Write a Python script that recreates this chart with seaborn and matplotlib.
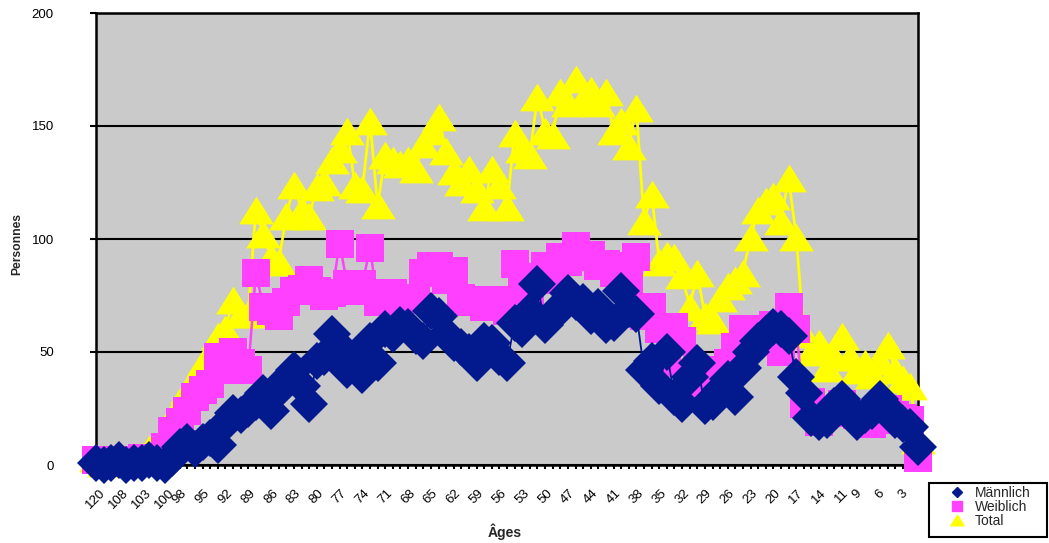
import numpy as np
import pandas as pd
import matplotlib
matplotlib.use("Agg")
import matplotlib.pyplot as plt
import seaborn as sns
from matplotlib.lines import Line2D
from matplotlib.patches import Rectangle

# ---------------- data ----------------
ages = [120, 112, 110, 108, 106, 105, 103, 102, 101] + list(range(100, 0, -1))
tick_ages = [120, 108, 103, 100, 98, 95, 92, 89, 86, 83, 80, 77, 74, 71, 68, 65, 62,
             59, 56, 53, 50, 47, 44, 41, 38, 35, 32, 29, 26, 23, 20, 17, 14, 11, 9, 6, 3]

maennlich = [1, 0, 1, 2, 0, 1, 1, 2, 1,
             0, 3, 8, 10, 7, 10, 12, 9, 18, 23,
             22, 25, 28, 32, 24, 33, 38, 42, 35, 27,
             46, 48, 58, 52, 42, 47, 40, 55, 45, 60,
             58, 62, 61, 57, 55, 68, 66, 58, 54, 52,
             50, 45, 55, 54, 48, 45, 63, 60, 68, 80,
             62, 66, 70, 76, 72, 72, 66, 70, 62, 63,
             77, 69, 67, 42, 46, 35, 50, 30, 27, 39,
             45, 26, 28, 33, 38, 30, 43, 50, 55, 58,
             61, 60, 57, 39, 32, 21, 19, 20, 26, 29,
             25, 19, 22, 24, 29, 25, 20, 18, 17, 8]

weiblich = [2, 1, 1, 2, 1, 2, 3, 3, 2,
            8, 15, 19, 24, 30, 33, 36, 48, 42, 50,
            45, 42, 85, 70, 68, 66, 72, 77, 78, 82,
            77, 75, 76, 98, 80, 77, 80, 96, 72, 76,
            76, 72, 74, 73, 85, 88, 88, 82, 86, 74,
            72, 73, 70, 72, 73, 68, 89, 80, 70, 83,
            88, 82, 92, 90, 97, 92, 93, 88, 89, 85,
            88, 80, 92, 66, 70, 60, 45, 61, 55, 33,
            40, 40, 36, 42, 45, 52, 60, 58, 60, 58,
            62, 50, 70, 60, 27, 28, 19, 24, 23, 27,
            23, 22, 22, 18, 20, 25, 22, 21, 20, 3]

total = [3, 1, 2, 4, 1, 3, 4, 7, 3,
         8, 18, 27, 33, 37, 45, 48, 57, 60, 73,
         67, 67, 113, 102, 92, 90, 110, 124, 113, 110,
         123, 125, 135, 140, 148, 124, 122, 152, 115, 137,
         135, 133, 135, 131, 142, 148, 154, 139, 130, 125,
         131, 122, 114, 131, 124, 114, 147, 140, 137, 163,
         148, 146, 165, 160, 171, 162, 166, 160, 165, 148,
         152, 141, 158, 108, 120, 90, 93, 92, 84, 70,
         85, 66, 64, 74, 79, 82, 85, 101, 113, 117,
         119, 108, 127, 101, 58, 50, 54, 43, 48, 57,
         48, 42, 45, 40, 46, 53, 42, 38, 35, 11]

series_names = ["Männlich", "Weiblich", "Total"]

# ---------------- style ----------------
sns.set_theme(style="white")
plt.rcParams['font.family'] = ['Liberation Sans', 'DejaVu Sans']

W, H = 1049, 543
fig = plt.figure(figsize=(W / 100, H / 100), dpi=100)
ax = fig.add_axes([96 / W, 1 - 465 / H, (918 - 96) / W, (465 - 13) / H])
ax.set_facecolor('#CACACA')

pos = np.arange(len(ages))
df = pd.DataFrame({'pos': pos, 'Männlich': maennlich, 'Weiblich': weiblich, 'Total': total})

c_m, c_w, c_t = '#031A8F', '#FF40FF', '#FFFF00'
tri = [(0, 1), (-1.25, -1), (1.25, -1), (0, 1)]

sns.lineplot(data=df, x='pos', y='Total', color=c_t, lw=2.0, marker=tri, markersize=25,
             markeredgewidth=0, errorbar=None, ax=ax, zorder=3, clip_on=False)
sns.lineplot(data=df, x='pos', y='Weiblich', color=c_w, lw=1.8, marker='s', markersize=19.5,
             markeredgewidth=0, errorbar=None, ax=ax, zorder=4, clip_on=False)
sns.lineplot(data=df, x='pos', y='Männlich', color=c_m, lw=1.3, marker='D', markersize=19,
             markeredgewidth=0, errorbar=None, ax=ax, zorder=5, clip_on=False)

ax.set_xlim(0, len(ages) - 1)
ax.set_ylim(0, 200)
ax.set_yticks([0, 50, 100, 150, 200])
ax.set_yticklabels(['0', '50', '100', '150', '200'], fontsize=9.5)
tick_set = set(tick_ages)
ax.set_xticks(pos)
ax.set_xticklabels([str(a) if a in tick_set else '' for a in ages], rotation=45,
                   ha='center', fontsize=9.5)
ax.tick_params(axis='x', bottom=True, direction='out', length=3, width=1.5, pad=13, colors='black')
ax.tick_params(axis='y', left=True, direction='out', length=4.3, width=1.5, pad=26, colors='black')

ax.yaxis.grid(True, color='black', lw=1.5)
ax.xaxis.grid(False)
ax.set_axisbelow(True)
for s in ax.spines.values():
    s.set_visible(True)
    s.set_color('black')
    s.set_linewidth(1.8)

ax.set_xlabel('Âges', fontsize=10, fontweight='bold')
ax.set_ylabel('Personnes', fontsize=8.7, fontweight='bold')
ax.xaxis.set_label_coords((505 - 96) / 822, (465 - 523) / 452)
ax.yaxis.set_label_coords((23 - 96) / 822, (465 - 244) / 452)

# legend
fig.add_artist(Rectangle((929 / W, (H - 537) / H), 118 / W, 54 / H, transform=fig.transFigure,
                         facecolor='white', edgecolor='black', lw=1.5, zorder=1))
handles = [
    Line2D([], [], color=c_m, marker='D', markersize=5, linestyle='none'),
    Line2D([], [], color=c_w, marker='s', markersize=7, linestyle='none'),
    Line2D([], [], color=c_t, marker=tri, markersize=9.5, linestyle='none'),
]
leg = fig.legend(handles, series_names, loc='upper left', bbox_to_anchor=(950 / W, 1 - 486 / H),
                 frameon=False, fontsize=10, borderpad=0, labelspacing=0.0, handlelength=1.0,
                 handletextpad=0.8, borderaxespad=0)
leg.set_zorder(2)

fig.savefig('out.png', dpi=100)
